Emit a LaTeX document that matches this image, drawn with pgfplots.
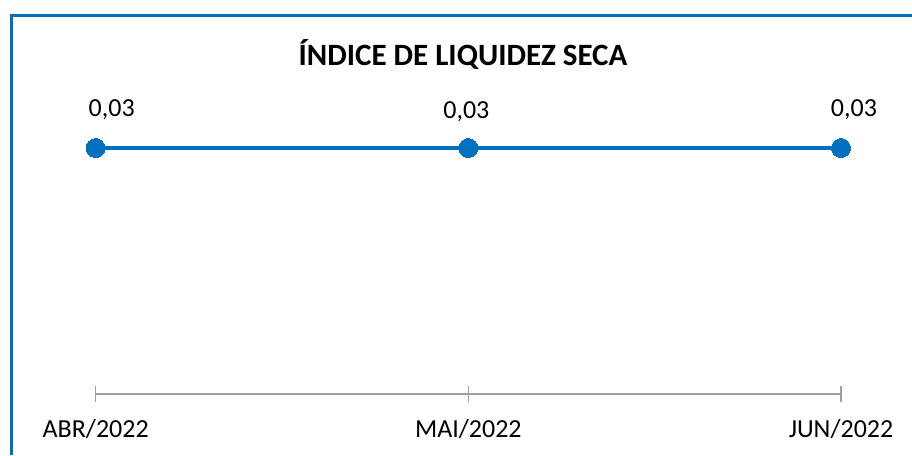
\documentclass[border=0pt]{standalone}
\usepackage{pgfplots}
\pgfplotsset{compat=1.18}
\usepackage{fontspec}
\setmainfont{Carlito}
\definecolor{lineblue}{HTML}{0070C0}
\definecolor{axgray}{HTML}{A0A0A0}
\begin{document}
\begin{tikzpicture}[x=1pt,y=1pt]
\useasboundingbox (0,0) rectangle (912,455);
\draw[lineblue, line width=3pt] (11.7,0) -- (11.7,439.7) -- (912,439.7);
\node[anchor=base, font=\fontsize{31}{36}\selectfont\bfseries] at (463,389) {ÍNDICE DE LIQUIDEZ SECA};
\begin{axis}[
  at={(95.7pt,61pt)}, anchor=origin,
  scale only axis, width=745.3pt, height=287pt,
  xmin=0, xmax=2, ymin=0, ymax=0.035,
  axis y line=none,
  axis x line*=bottom,
  axis line style={draw=axgray, line width=1.3pt},
  xtick={0,1,2},
  xticklabels={ABR/2022,MAI/2022,JUN/2022},
  tick align=center,
  major tick length=16pt,
  xtick style={draw=axgray, line width=1.3pt},
  xticklabel style={anchor=base, font=\fontsize{26}{30}\selectfont, text=black, yshift=-35pt},
  typeset ticklabels with strut=false,
  clip=false,
  visualization depends on={value \thisrow{xsh} \as \xsh},
  visualization depends on={value \thisrow{ysh} \as \ysh},
  nodes near coords={0,03},
  every node near coord/.append style={anchor=base, font=\fontsize{26}{30}\selectfont, text=black, xshift=\xsh pt, yshift=\ysh pt},
]
\addplot[lineblue, line width=4.5pt, mark=*, mark size=9.5pt, mark options={fill=lineblue, draw=lineblue, line width=0pt}] table {
x y xsh ysh
0 0.03 16 31
1 0.03 -2 29
2 0.03 13 31
};
\end{axis}
\end{tikzpicture}
\end{document}
